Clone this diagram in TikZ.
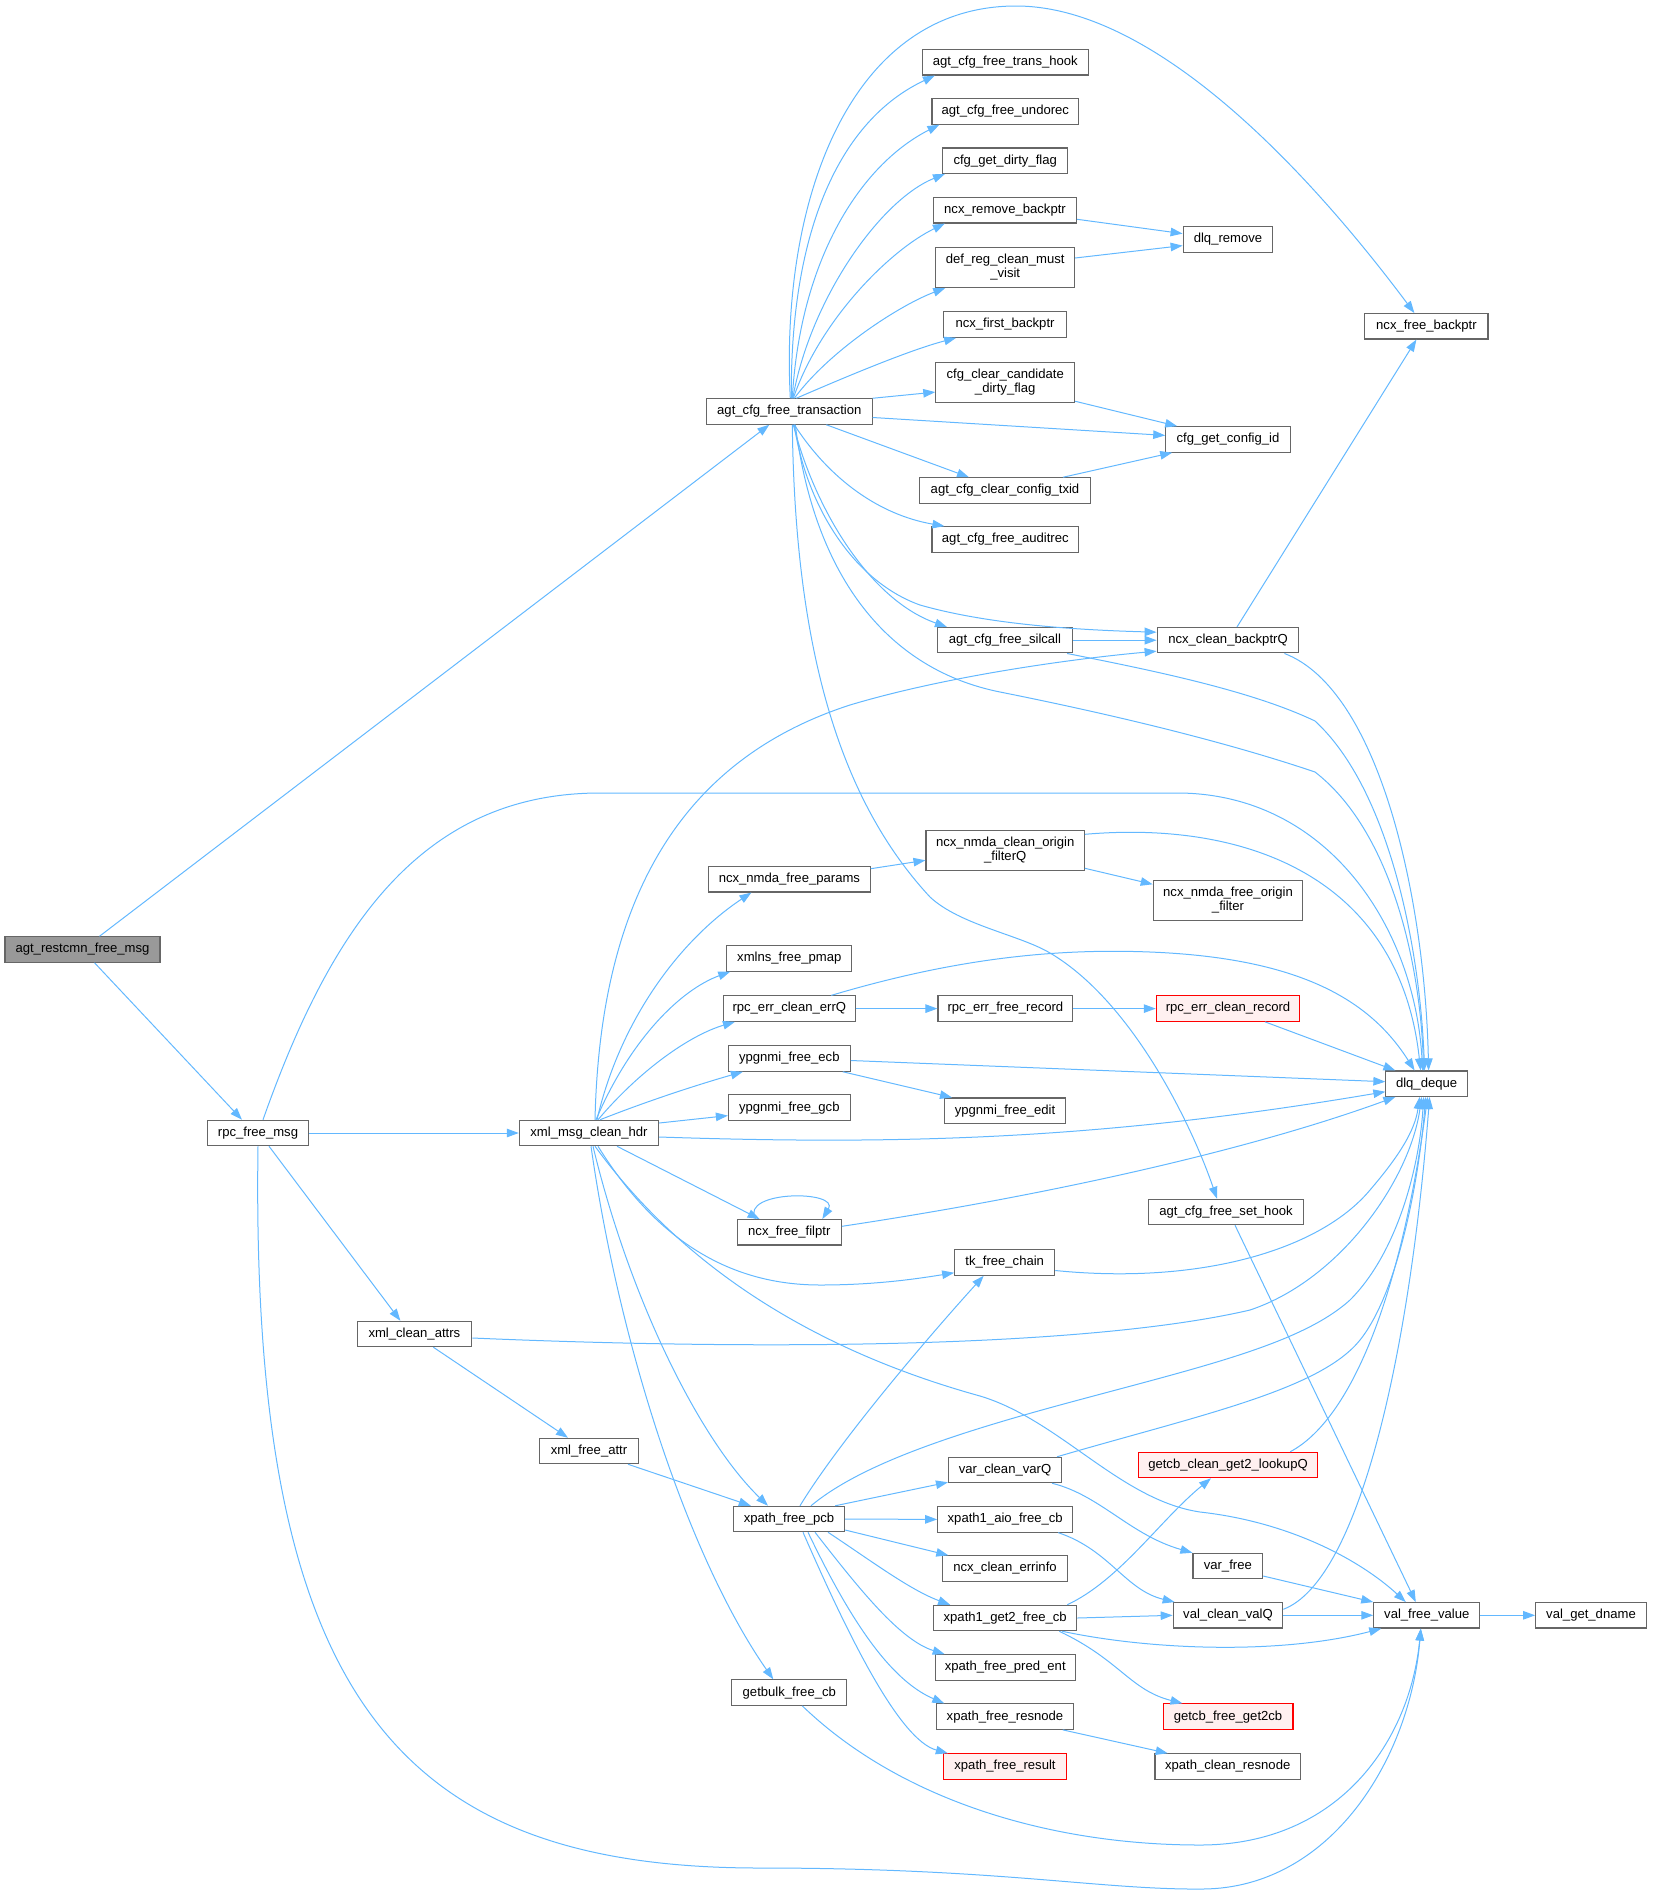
\documentclass[tikz,border=0pt]{standalone}
\usepackage{fontspec}
\setmainfont{Liberation Sans}
\usetikzlibrary{arrows.meta,calc}
\definecolor{edgeblue}{HTML}{63B8FF}
\definecolor{boxgray}{HTML}{666666}
\definecolor{rootgray}{HTML}{999999}
\definecolor{redfill}{HTML}{FFF0F0}
\definecolor{redline}{HTML}{FF0000}
\tikzset{
  nbox/.style={draw=boxgray, fill=white, line width=1.1pt, minimum height=25.4pt, inner sep=0pt, font=\fontsize{13.1}{14}\selectfont, text=black},
  nboxtwo/.style={nbox, minimum height=40pt, align=center},
  rootbox/.style={nbox, fill=rootgray},
  redbox/.style={nbox, draw=redline, fill=redfill},
  edge/.style={draw=edgeblue, line width=1pt, -{Triangle[length=12pt,width=8.5pt]}},
}
\begin{document}
\begin{tikzpicture}[x=1pt,y=-1pt]
\useasboundingbox (0,0) rectangle (1652,1895);
% nodes
\node[rootbox,minimum width=155pt] (root) at (82.5,949.5) {agt\_restcmn\_free\_msg};
\node[nbox,minimum width=101.5pt] (rpc) at (258,1133) {rpc\_free\_msg};
\node[nbox,minimum width=139.3pt] (hdr) at (589,1133) {xml\_msg\_clean\_hdr};
\node[nbox,minimum width=114.7pt] (attrs) at (414.4,1334) {xml\_clean\_attrs};
\node[nbox,minimum width=98.7pt] (fattr) at (589,1451) {xml\_free\_attr};
\node[nbox,minimum width=111.3pt] (pcb) at (789,1519) {xpath\_free\_pcb};
\node[nbox,minimum width=115.2pt] (getbulk) at (789.3,1692.6) {getbulk\_free\_cb};
\node[nbox,minimum width=125pt] (xmlns) at (789.3,958.4) {xmlns\_free\_pmap};
\node[nbox,minimum width=131.6pt] (errQ) at (789.3,1008.6) {rpc\_err\_clean\_errQ};
\node[nbox,minimum width=121.8pt] (ecb) at (789.3,1058.5) {ypgnmi\_free\_ecb};
\node[nbox,minimum width=121.8pt] (gcb) at (789.3,1107.6) {ypgnmi\_free\_gcb};
\node[nbox,minimum width=104.2pt] (filptr) at (789.3,1232.3) {ncx\_free\_filptr};
\node[nbox,minimum width=161.6pt] (params) at (789.4,879.3) {ncx\_nmda\_free\_params};
\node[nbox,minimum width=165.7pt] (T) at (789.3,411.5) {agt\_cfg\_free\_transaction};
\node[nboxtwo,minimum width=158.4pt] (filterQ) at (1005.2,850.3) {ncx\_nmda\_clean\_origin\\\_filterQ};
\node[nboxtwo,minimum width=149.5pt] (originf) at (1228,900.3) {ncx\_nmda\_free\_origin\\\_filter};
\node[nbox,minimum width=134.8pt] (freerec) at (1005.4,1008.6) {rpc\_err\_free\_record};
\node[redbox,minimum width=143.3pt] (cleanrec) at (1228,1008.6) {rpc\_err\_clean\_record};
\node[nbox,minimum width=121pt] (edit) at (1005,1110.7) {ypgnmi\_free\_edit};
\node[nbox,minimum width=154.3pt] (sethook) at (1226,1212) {agt\_cfg\_free\_set\_hook};
\node[nbox,minimum width=100pt] (tk) at (1004.7,1262.5) {tk\_free\_chain};
\node[nbox,minimum width=165.7pt] (hook) at (1005.3,62.3) {agt\_cfg\_free\_trans\_hook};
\node[nbox,minimum width=146.7pt] (undorec) at (1005.3,111.4) {agt\_cfg\_free\_undorec};
\node[nbox,minimum width=125.4pt] (dirty) at (1005.2,160.7) {cfg\_get\_dirty\_flag};
\node[nbox,minimum width=143.2pt] (rmbp) at (1005,210.3) {ncx\_remove\_backptr};
\node[nboxtwo,minimum width=138.8pt] (defreg) at (1005.2,267.5) {def\_reg\_clean\_must\\\_visit};
\node[nbox,minimum width=122.6pt] (firstbp) at (1005,324.6) {ncx\_first\_backptr};
\node[nboxtwo,minimum width=138.8pt] (cand) at (1005.2,382.1) {cfg\_clear\_candidate\\\_dirty\_flag};
\node[nbox,minimum width=170.8pt] (txid) at (1005,490.5) {agt\_cfg\_clear\_config\_txid};
\node[nbox,minimum width=146.7pt] (audit) at (1005.3,539.4) {agt\_cfg\_free\_auditrec};
\node[nbox,minimum width=135pt] (silcall) at (1005,640.2) {agt\_cfg\_free\_silcall};
\node[nbox,minimum width=89.7pt] (dlqrm) at (1228,239.6) {dlq\_remove};
\node[nbox,minimum width=124.5pt] (cfgid) at (1228,439.4) {cfg\_get\_config\_id};
\node[nbox,minimum width=141.7pt] (NB) at (1228,640.2) {ncx\_clean\_backptrQ};
\node[nbox,minimum width=123.2pt] (freebp) at (1426.4,326.3) {ncx\_free\_backptr};
\node[nbox,minimum width=81.4pt] (D) at (1426.6,1083.7) {dlq\_deque};
\node[nbox,minimum width=113pt] (varQ) at (1005,1470) {var\_clean\_varQ};
\node[redbox,minimum width=179.3pt] (lookup) at (1228,1465) {getcb\_clean\_get2\_lookupQ};
\node[nbox,minimum width=134.9pt] (aio) at (1005.2,1519.4) {xpath1\_aio\_free\_cb};
\node[nbox,minimum width=124.3pt] (errinfo) at (1005,1568.5) {ncx\_clean\_errinfo};
\node[nbox,minimum width=69.7pt] (varfree) at (1227.8,1566) {var\_free};
\node[nbox,minimum width=143pt] (get2) at (1005.2,1618) {xpath1\_get2\_free\_cb};
\node[nbox,minimum width=109.6pt] (valQ) at (1228,1615.3) {val\_clean\_valQ};
\node[nbox,minimum width=106pt] (V) at (1426.8,1615.3) {val\_free\_value};
\node[nbox,minimum width=110.6pt] (dname) at (1591,1615.3) {val\_get\_dname};
\node[nbox,minimum width=140pt] (pred) at (1005.2,1667.4) {xpath\_free\_pred\_ent};
\node[redbox,minimum width=129.9pt] (get2cb) at (1228,1716.6) {getcb\_free\_get2cb};
\node[nbox,minimum width=136.4pt] (resnode) at (1005,1716.6) {xpath\_free\_resnode};
\node[redbox,minimum width=123.3pt] (result) at (1005,1766.5) {xpath\_free\_result};
\node[nbox,minimum width=145.4pt] (cresnode) at (1227.7,1766.5) {xpath\_clean\_resnode};

% root
\draw[edge] ($(root.north)+(17,0)$) -- ($(T.south)+(-20,0)$);
\draw[edge] ($(root.south)+(12,0)$) -- ($(rpc.north)+(-16,0)$);
% rpc_free_msg
\draw[edge] (rpc.east) -- (hdr.west);
\draw[edge] ($(rpc.north)+(5,0)$) .. controls (330,930) and (420,793) .. (600,793) -- (1180,793) .. controls (1330,795) and (1415,930) .. ($(D.north)+(-4,0)$);
\draw[edge] ($(rpc.south)+(11,0)$) -- ($(attrs.north)+(-14,0)$);
\draw[edge] (rpc.south) .. controls (250,1700) and (400,1868) .. (760,1868) .. controls (1000,1868) and (1100,1890) .. (1203,1889) .. controls (1330,1888) and (1410,1760) .. ($(V.south)+(-6,0)$);
% xml_msg_clean_hdr
\draw[edge] ($(hdr.north)+(6,0)$) .. controls (600,900) and (680,760) .. (850,705) .. controls (950,675) and (1080,658) .. ($(NB.west)+(0,11)$);
\draw[edge] ($(hdr.north)+(8,0)$) .. controls (620,1020) and (680,940) .. ($(params.south)+(-38,0)$);
\draw[edge] ($(hdr.north)+(7,0)$) .. controls (630,1040) and (680,990) .. ($(xmlns.south west)+(4,0)$);
\draw[edge] ($(hdr.north)+(9,0)$) .. controls (640,1070) and (690,1035) .. ($(errQ.south west)+(12,0)$);
\draw[edge] ($(hdr.north)+(11,0)$) .. controls (650,1100) and (700,1084) .. ($(ecb.south west)+(15,0)$);
\draw[edge] ($(hdr.east)+(0,-10)$) -- ($(gcb.west)+(0,8)$);
\draw[edge] ($(hdr.east)+(0,4)$) .. controls (900,1145) and (1100,1140) .. ($(D.west)+(0,8)$);
\draw[edge] ($(hdr.south)+(28,0)$) -- ($(filptr.north west)+(23,0)$);
\draw[edge] ($(hdr.south)+(9,0)$) .. controls (650,1230) and (720,1285) .. (820,1285) .. controls (870,1285) and (910,1280) .. ($(tk.south west)+(0,-3)$);
\draw[edge] ($(hdr.south)+(6,0)$) .. controls (700,1290) and (850,1360) .. (980,1396) .. controls (1060,1420) and (1120,1500) .. (1200,1512) .. controls (1290,1522) and (1360,1560) .. ($(V.north)+(-21,0)$);
\draw[edge] ($(hdr.south)+(4,0)$) .. controls (630,1300) and (700,1440) .. ($(pcb.north)+(-21,0)$);
\draw[edge] ($(hdr.south)+(2,0)$) .. controls (620,1350) and (690,1560) .. ($(getbulk.north)+(-16,0)$);
% xml_clean_attrs / xml_free_attr
\draw[edge] ($(attrs.east)+(0,4)$) .. controls (800,1352) and (1100,1345) .. (1250,1310) .. controls (1340,1280) and (1410,1180) .. ($(D.south)+(-5,0)$);
\draw[edge] ($(attrs.south)+(19,0)$) -- ($(fattr.north)+(-21,0)$);
\draw[edge] ($(fattr.south)+(39,0)$) -- ($(pcb.north west)+(18,0)$);
% xpath_free_pcb
\draw[edge] ($(pcb.north)+(11,0)$) .. controls (840,1440) and (930,1335) .. ($(tk.south)+(-21,0)$);
\draw[edge] ($(pcb.north)+(22,0)$) .. controls (860,1465) and (950,1435) .. (1060,1405) .. controls (1200,1367) and (1300,1345) .. (1350,1300) .. controls (1400,1250) and (1420,1160) .. ($(D.south)+(-3,0)$);
\draw[edge] ($(pcb.north east)+(-10,0)$) -- ($(varQ.south west)+(0,-1)$);
\draw[edge] (pcb.east) -- (aio.west);
\draw[edge] ($(pcb.east)+(0,11)$) -- ($(errinfo.north west)+(6,0)$);
\draw[edge] ($(pcb.south)+(39,0)$) .. controls (870,1560) and (910,1590) .. ($(get2.north west)+(17,0)$);
\draw[edge] ($(pcb.south)+(26,0)$) .. controls (860,1590) and (900,1640) .. ($(pred.north west)+(10,0)$);
\draw[edge] ($(pcb.south)+(19,0)$) .. controls (850,1620) and (890,1680) .. ($(resnode.north west)+(8,0)$);
\draw[edge] ($(pcb.south)+(14,0)$) .. controls (850,1640) and (900,1740) .. ($(result.north west)+(5,0)$);
% var_clean_varQ etc
\draw[edge] ($(varQ.north east)+(-5,0)$) .. controls (1200,1415) and (1320,1390) .. (1360,1340) .. controls (1400,1290) and (1420,1170) .. ($(D.south)+(-1,0)$);
\draw[edge] ($(varQ.south east)+(-10,0)$) .. controls (1100,1495) and (1130,1535) .. (varfree.north west);
\draw[edge] ($(aio.south east)+(-15,0)$) .. controls (1110,1550) and (1125,1590) .. ($(valQ.north west)+(2,0)$);
\draw[edge] ($(get2.north east)+(-10,0)$) .. controls (1120,1580) and (1160,1520) .. ($(lookup.south)+(-17,0)$);
\draw[edge] (get2.east) -- (valQ.west);
\draw[edge] ($(get2.south east)+(-15,0)$) .. controls (1150,1650) and (1280,1655) .. ($(V.south west)+(8,0)$);
\draw[edge] ($(get2.south east)+(-18,0)$) .. controls (1120,1660) and (1130,1690) .. ($(get2cb.north west)+(20,0)$);
\draw[edge] ($(resnode.south east)+(-11,0)$) -- ($(cresnode.north)+(-60,0)$);
\draw[edge] ($(lookup.north east)+(-28,0)$) .. controls (1350,1420) and (1400,1300) .. ($(D.south)+(1,0)$);
\draw[edge] ($(varfree.east)+(0,10)$) -- (V.north west);
\draw[edge] (valQ.east) -- (V.west);
\draw[edge] ($(valQ.east)+(0,-6)$) .. controls (1360,1580) and (1410,1350) .. ($(D.south)+(3,0)$);
\draw[edge] (V.east) -- (dname.west);
\draw[edge] ($(sethook.south)+(9,0)$) -- ($(V.north)+(-11,0)$);
\draw[edge] ($(getbulk.south)+(13,0)$) .. controls (900,1800) and (1050,1845) .. (1200,1845) .. controls (1340,1845) and (1410,1740) .. ($(V.south)+(-6,0)$);
% agt_cfg_free_transaction
\draw[edge] ($(T.north)+(2,0)$) .. controls (790,230) and (840,120) .. ($(hook.south west)+(13,0)$);
\draw[edge] ($(T.north)+(3,0)$) .. controls (800,260) and (860,165) .. ($(undorec.south west)+(8,0)$);
\draw[edge] ($(T.north)+(3.5,0)$) .. controls (810,300) and (880,200) .. ($(dirty.south west)+(3,0)$);
\draw[edge] ($(T.north)+(4,0)$) .. controls (820,320) and (890,250) .. ($(rmbp.south west)+(12,0)$);
\draw[edge] ($(T.north)+(5,0)$) .. controls (830,350) and (900,305) .. ($(defreg.south west)+(10,0)$);
\draw[edge] ($(T.north)+(7,0)$) .. controls (850,375) and (910,350) .. ($(firstbp.south west)+(13,0)$);
\draw[edge] (T.north east) -- ($(cand.west)+(0,10)$);
\draw[edge] ($(T.east)+(0,6)$) -- ($(cfgid.west)+(0,-4)$);
\draw[edge] ($(T.south)+(37,0)$) -- ($(txid.north)+(-36,0)$);
\draw[edge] ($(T.south)+(5,0)$) .. controls (830,480) and (880,515) .. ($(audit.north west)+(13,0)$);
\draw[edge] ($(T.south)+(4,0)$) .. controls (815,510) and (870,600) .. ($(silcall.north west)+(10,0)$);
\draw[edge] ($(T.south)+(5,0)$) .. controls (805,500) and (850,580) .. (920,605) .. controls (990,625) and (1080,630) .. ($(NB.west)+(0,-8)$);
\draw[edge] ($(T.south)+(6,0)$) .. controls (815,580) and (890,670) .. (1000,692) .. controls (1150,722) and (1250,750) .. (1315,772) .. controls (1390,830) and (1420,960) .. ($(D.north)+(-3,0)$);
\draw[edge] ($(T.south)+(3,0)$) .. controls (795,650) and (840,800) .. (930,897) .. controls (960,925) and (1020,935) .. (1050,953) .. controls (1130,1000) and (1190,1120) .. ($(sethook.north)+(-9,0)$);
\draw[edge] ($(T.north)+(1,0)$) .. controls (780,200) and (850,6) .. (1016,6) .. controls (1150,6) and (1300,160) .. ($(freebp.north)+(-12,0)$);
% silcall, backptrQ
\draw[edge] ($(silcall.south east)+(-6,0)$) .. controls (1150,670) and (1250,690) .. (1315,721) .. controls (1390,790) and (1420,950) .. ($(D.north)+(-2,0)$);
\draw[edge] (silcall.east) -- (NB.west);
\draw[edge] ($(NB.north)+(9,0)$) -- ($(freebp.south)+(-10,0)$);
\draw[edge] ($(NB.south east)+(-15,0)$) .. controls (1380,690) and (1425,900) .. ($(D.north)+(2,0)$);
% top column
\draw[edge] ($(rmbp.east)+(0,9)$) -- ($(dlqrm.west)+(0,-6)$);
\draw[edge] ($(defreg.east)+(0,-9.5)$) -- ($(dlqrm.west)+(0,6)$);
\draw[edge] ($(cand.south east)+(0,-1.4)$) -- ($(cfgid.north west)+(12,0)$);
\draw[edge] ($(txid.north)+(58,0)$) -- ($(cfgid.south west)+(7,0)$);
% nmda
\draw[edge] ($(params.east)+(0,-10.6)$) -- ($(filterQ.west)+(0,10)$);
\draw[edge] ($(filterQ.east)+(0,18)$) -- ($(originf.west)+(0,-16)$);
\draw[edge] ($(filterQ.east)+(0,-16)$) .. controls (1250,820) and (1400,880) .. ($(D.north)+(-6,0)$);
% rpc_err
\draw[edge] (errQ.east) -- (freerec.west);
\draw[edge] ($(errQ.north)+(42,0)$) .. controls (950,960) and (1050,948) .. (1150,952) .. controls (1300,958) and (1370,1000) .. ($(D.north)+(-12,0)$);
\draw[edge] (freerec.east) -- (cleanrec.west);
\draw[edge] ($(cleanrec.south)+(37,0)$) -- ($(D.north west)+(10,0)$);
% ypgnmi
\draw[edge] ($(ecb.east)+(0,2)$) -- ($(D.west)+(0,-2)$);
\draw[edge] ($(ecb.south east)+(-8,0)$) -- ($(edit.north west)+(8,0)$);
% filptr
\draw[edge] ($(filptr.north)+(-34,0)$) .. controls (740,1190) and (840,1190) .. ($(filptr.north)+(33,0)$);
\draw[edge] ($(filptr.east)+(0,-6)$) .. controls (1050,1195) and (1250,1150) .. ($(D.south west)+(10,0)$);
% tk_free_chain
\draw[edge] ($(tk.east)+(0,8)$) .. controls (1200,1285) and (1320,1250) .. (1370,1190) .. controls (1400,1155) and (1415,1130) .. ($(D.south)+(-7,0)$);
\end{tikzpicture}
\end{document}
